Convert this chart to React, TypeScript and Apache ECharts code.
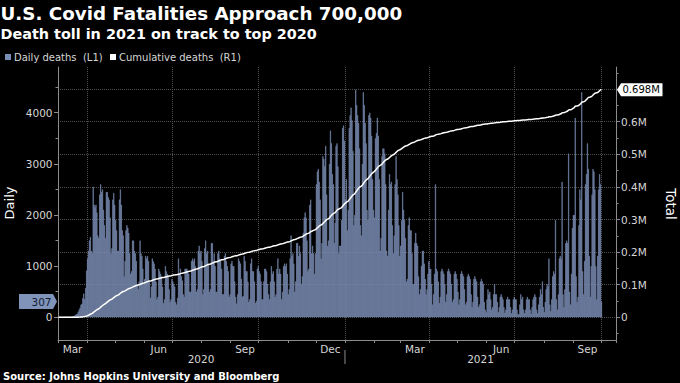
import React, { useEffect, useRef } from 'react';
import * as echarts from 'echarts';

// Daily deaths per month
const mar2020 = [1,5,1,4,1,2,3,4,4,3,8,7,9,10,12,18,23,30,46,60,67,104,142,187,244,264,375,463,355,573,912];
const apr2020 = [1150,1300,1500,1570,1300,1250,2550,2200,2150,2200,2050,1600,1550,2400,2600,2450,2500,2100,1800,1550,2450,2450,2350,2300,1950,1250,1350,2300,2430,2200];
const may2020 = [1900,1700,1300,1300,2300,2500,2200,1700,1600,800,1100,1700,1800,1750,1650,1250,850,900,1500,1500,1300,1250,1100,650,550,700,1500,1250,1200,950,650];
const jun2020 = [750,1200,1150,1200,1100,700,380,600,1150,1100,1050,950,700,350,400,950,900,850,800,600,280,350,1000,900,850,800,550,300,350,750];
const jul2020 = [700,650,600,300,250,380,1150,850,950,800,720,450,400,950,950,950,900,850,500,500,1100,1150,1100,1150,1000,500,550,1300,1400,1250,1300];
const aug2020 = [1100,450,550,1350,1500,1250,1300,1050,500,550,1450,1450,1100,1250,1000,500,500,1250,1300,1150,1100,950,450,450,1200,1250,1100,1000,900,400,450];
const sep2020 = [1050,1100,1000,1000,700,400,270,450,1150,1100,1050,750,400,420,1200,1100,900,900,700,300,350,1050,1150,900,900,700,280,320,950,1000];
const oct2020 = [900,850,700,350,350,700,950,950,900,650,450,350,700,1000,850,900,700,400,450,950,1150,850,950,850,350,500,1000,1050,1000,1050,850];
const nov2020 = [450,550,1150,1600,1200,1250,1050,500,700,1450,1450,1200,1400,1250,650,800,1650,1950,2050,1950,1500,900,950,2200,2300,1250,1400,1250,850,1250];
const dec2020 = [2600,2850,2900,2650,2300,1150,1450,3150,3100,2950,3350,2400,1400,1500,3000,3650,3400,2800,2600,1450,1850,3350,3400,2950,1250,1400,1400,1900,3700,3750,3450];
const jan2021 = [2300,2700,1700,2100,3700,3950,4100,3850,3250,1800,2000,4450,4150,3950,3800,3300,1800,1600,3000,4400,4150,3800,3400,2100,1900,3950,4000,3900,3550,2700,2100];
const feb2021 = [1950,3500,3600,3900,3550,2700,1300,1550,3150,3300,3300,3200,2600,1300,1200,2100,2800,2600,2650,1800,1250,1600,2600,3150,2700,2400,1800,1200];
const mar2021 = [1400,1900,2450,2100,1900,1550,700,750,1800,1950,1700,1700,1250,650,650,1450,1650,1450,1400,800,450,550,1000,1300,1300,1050,750,450,550,850,1100];
const apr2021 = [950,950,650,250,450,850,2600,950,900,700,280,400,900,950,900,850,650,300,450,900,950,900,850,650,300,350,850,900,850,750];
const may2021 = [500,250,350,850,900,850,800,550,250,300,800,850,800,750,450,200,300,750,800,750,700,400,200,250,700,750,700,650,300,150,100];
const jun2021 = [350,550,450,500,350,150,200,450,650,450,450,300,100,200,400,450,400,350,200,90,150,350,400,350,350,200,80,150,350,400];
const jul2021 = [350,350,150,60,60,250,450,350,400,150,80,150,350,400,350,350,150,70,200,350,400,450,400,150,80,250,400,550,450,700,200];
const aug2021 = [100,300,550,650,600,1150,250,120,350,800,900,850,1900,350,150,450,1150,1200,1150,2650,450,200,550,1450,1500,1450,3200,500,250,850,1750];
const sep2021 = [2000,2000,3900,800,300,400,1800,2500,2300,4400,900,450,1100,2600,2800,3400,2900,1200,400,1000,2400,2900,2850,2500,1000,350,1200,2500,2800,2600];
const oct2021 = [307];

const monthNames = ['Jan','Feb','Mar','Apr','May','Jun','Jul','Aug','Sep','Oct','Nov','Dec'];
const labelMonths = [2, 5, 8, 11];
const gridMonths = ['01', '04', '07', '10'];
const leftTicks = [0, 1000, 2000, 3000, 4000];
const leftMinorTicks = [500, 1500, 2500, 3500, 4500];
const rightLabels = [0, 100000, 200000, 300000, 400000, 500000, 600000];
const rightGridTicks = [0, 100000, 200000, 300000, 400000, 500000, 600000, 700000];
const rightMinorTicks = [-50000, 50000, 150000, 250000, 350000, 450000, 550000, 650000, 750000];

const startDate = Date.UTC(2020, 2, 1);
const dayCount = 595;

const categories: string[] = [];
for (let i = 0; i < dayCount; i++) {
  categories.push(new Date(startDate + i * 86400000).toISOString().slice(0, 10));
}

const daily: number[] = [
  ...mar2020, ...apr2020, ...may2020, ...jun2020, ...jul2020, ...aug2020, ...sep2020,
  ...oct2020, ...nov2020, ...dec2020, ...jan2021, ...feb2021, ...mar2021, ...apr2021,
  ...may2021, ...jun2021, ...jul2021, ...aug2021, ...sep2021, ...oct2021,
];
const cumulative: number[] = [];
{
  let s = 0;
  for (const v of daily) { s += v; cumulative.push(s); }
}

const yearMid: number[] = [];
{
  const years = Array.from(new Set(categories.map((c) => c.slice(0, 4))));
  years.forEach((y) => {
    const first = categories.findIndex((c) => c.startsWith(y));
    let last = first;
    categories.forEach((c, i) => { if (c.startsWith(y)) last = i; });
    yearMid.push(Math.floor((first + last) / 2));
  });
}

const BAR = '#7a8db4';
const AXIS = '#8c8c8c';
const GRID = '#505050';
const LABEL = '#d6d6d6';
const FONT = 'DejaVu Sans';

export default function App() {
  const ref = useRef<HTMLDivElement>(null);
  useEffect(() => {
    const chart = echarts.init(ref.current!, null, { renderer: 'svg', width: 680, height: 383 });
    const lMin = -444, lMax = 4893, rMin = -69600, rMax = 767800;
    chart.setOption({
      backgroundColor: '#000',
      animation: false,
      grid: { left: 58, right: 64, top: 67, bottom: 43 },
      xAxis: [
        {
          type: 'category', data: categories, boundaryGap: true, position: 'bottom',
          axisLine: { onZero: false, lineStyle: { color: AXIS } },
          axisTick: { show: true, interval: (i: number, v: string) => v.endsWith('-01'), length: 3, lineStyle: { color: AXIS } },
          axisLabel: {
            interval: (i: number, v: string) => v.endsWith('-16') && labelMonths.includes(+v.slice(5, 7) - 1),
            formatter: (v: string) => monthNames[+v.slice(5, 7) - 1],
            color: LABEL, fontSize: 10.5, fontFamily: FONT, margin: 3,
          },
          splitLine: {
            show: true,
            interval: (i: number, v: string) => v.endsWith('-01') && gridMonths.includes(v.slice(5, 7)),
            lineStyle: { color: GRID, type: 'dotted' },
          },
        },
        {
          type: 'category', data: categories, boundaryGap: true, position: 'bottom', offset: 10,
          axisLine: { show: false, onZero: false },
          axisTick: { show: false },
          axisLabel: {
            interval: (i: number) => yearMid.includes(i),
            formatter: (v: string) => v.slice(0, 4),
            color: LABEL, fontSize: 10.5, fontFamily: FONT, margin: 3,
          },
          splitLine: { show: false },
        },
      ],
      yAxis: [
        {
          type: 'value', position: 'left', min: lMin, max: lMax,
          axisLine: { show: true, onZero: false, lineStyle: { color: AXIS } },
          axisTick: { show: true, length: 4, customValues: leftTicks, lineStyle: { color: AXIS } },
          axisLabel: {
            customValues: leftTicks, color: LABEL, fontSize: 10.5, fontFamily: FONT, margin: 5.5,
            formatter: (v: number) => String(v),
          },
          splitLine: { show: false },
        },
        {
          type: 'value', position: 'right', min: rMin, max: rMax,
          axisLine: { show: true, onZero: false, lineStyle: { color: AXIS } },
          axisTick: { show: true, length: 4, customValues: rightGridTicks, lineStyle: { color: AXIS } },
          axisLabel: {
            customValues: rightLabels, color: LABEL, fontSize: 10.5, fontFamily: FONT, margin: 5,
            formatter: (v: number) => (v === 0 ? '0' : (v / 1e6).toFixed(1) + 'M'),
          },
          splitLine: { show: true, lineStyle: { color: GRID, type: 'dotted' } },
        },
        {
          type: 'value', position: 'left', min: lMin, max: lMax,
          axisLine: { show: false, onZero: false },
          axisTick: { show: true, length: 2.5, customValues: leftMinorTicks, lineStyle: { color: AXIS } },
          axisLabel: { show: false },
          splitLine: { show: false },
        },
        {
          type: 'value', position: 'right', min: rMin, max: rMax,
          axisLine: { show: false, onZero: false },
          axisTick: { show: true, length: 2.5, customValues: rightMinorTicks, lineStyle: { color: AXIS } },
          axisLabel: { show: false },
          splitLine: { show: false },
        },
      ],
      series: [
        {
          type: 'bar', name: 'Daily deaths', data: daily, xAxisIndex: 0, yAxisIndex: 0,
          barCategoryGap: '0%', barGap: '0%',
          itemStyle: { color: BAR, borderColor: BAR, borderWidth: 0.45 }, silent: true,
        },
        {
          type: 'line', name: 'Cumulative deaths', data: cumulative, xAxisIndex: 0, yAxisIndex: 1,
          showSymbol: false, symbol: 'none', lineStyle: { color: '#ffffff', width: 1.5 }, silent: true, z: 3,
        },
      ],
    });

    const lastDaily = daily[daily.length - 1];
    const lastCum = cumulative[cumulative.length - 1];
    const yTag = chart.convertToPixel({ yAxisIndex: 0 }, lastDaily) as number;
    const yCum = chart.convertToPixel({ yAxisIndex: 1 }, lastCum) as number;
    const janIdx = categories.indexOf('2021-01-01');
    const xA = chart.convertToPixel({ xAxisIndex: 0 }, janIdx) as number;
    const xB = chart.convertToPixel({ xAxisIndex: 0 }, janIdx + 1) as number;
    const xJan = xA - (xB - xA) / 2;
    const txt = (text: string, x: number, y: number, size: number, weight: string, fill: string) => ({
      type: 'text', x, y, z: 100,
      style: { text, fill, fontSize: size, fontFamily: FONT, fontWeight: weight, align: 'left', verticalAlign: 'middle' },
    });

    chart.setOption({
      graphic: {
        elements: [
          txt('U.S. Covid Fatalities Approach 700,000', 0.5, 13.7, 18.3, 'bold', '#ffffff'),
          txt('Death toll in 2021 on track to top 2020', 0.5, 33.8, 14.4, 'bold', '#ffffff'),
          { type: 'rect', z: 100, shape: { x: 5, y: 54, width: 6, height: 6 }, style: { fill: BAR } },
          txt('Daily deaths  (L1)', 14, 57, 10, 'normal', LABEL),
          { type: 'rect', z: 100, shape: { x: 110, y: 54, width: 6, height: 6 }, style: { fill: '#ffffff' } },
          txt('Cumulative deaths  (R1)', 119, 57, 10, 'normal', LABEL),
          {
            type: 'text', x: 9, y: 203, rotation: Math.PI / 2, z: 100,
            style: { text: 'Daily', fill: '#ffffff', fontSize: 13, fontFamily: FONT, align: 'center', verticalAlign: 'middle' },
          },
          {
            type: 'text', x: 671, y: 204, rotation: -Math.PI / 2, z: 100,
            style: { text: 'Total', fill: '#ffffff', fontSize: 13.5, fontFamily: FONT, align: 'center', verticalAlign: 'middle' },
          },
          txt('Source: Johns Hopkins University and Bloomberg', 3, 376, 10, 'bold', '#ffffff'),
          {
            type: 'line', z: 100, shape: { x1: xJan, y1: 350, x2: xJan, y2: 364 },
            style: { stroke: AXIS, lineWidth: 1 },
          },
          {
            type: 'polygon', z: 100,
            shape: { points: [[19, yTag - 7.5], [53, yTag - 7.5], [57, yTag], [53, yTag + 7.5], [19, yTag + 7.5]] },
            style: { fill: '#8094ba' },
          },
          {
            type: 'text', x: 51.5, y: yTag, z: 101,
            style: { text: String(lastDaily), fill: '#111c33', fontSize: 10.5, fontFamily: FONT, align: 'right', verticalAlign: 'middle' },
          },
          {
            type: 'polygon', z: 100,
            shape: { points: [[617, yCum], [621, yCum - 6.5], [662.5, yCum - 6.5], [662.5, yCum + 6.5], [621, yCum + 6.5]] },
            style: { fill: '#ffffff' },
          },
          {
            type: 'text', x: 622.5, y: yCum, z: 101,
            style: { text: (lastCum / 1e6).toFixed(3) + 'M', fill: '#000000', fontSize: 10, fontFamily: FONT, align: 'left', verticalAlign: 'middle' },
          },
        ],
      },
    });
    return () => chart.dispose();
  }, []);
  return <div ref={ref} style={{ position: 'fixed', left: 0, top: 0, width: 680, height: 383, background: '#000' }} />;
}
